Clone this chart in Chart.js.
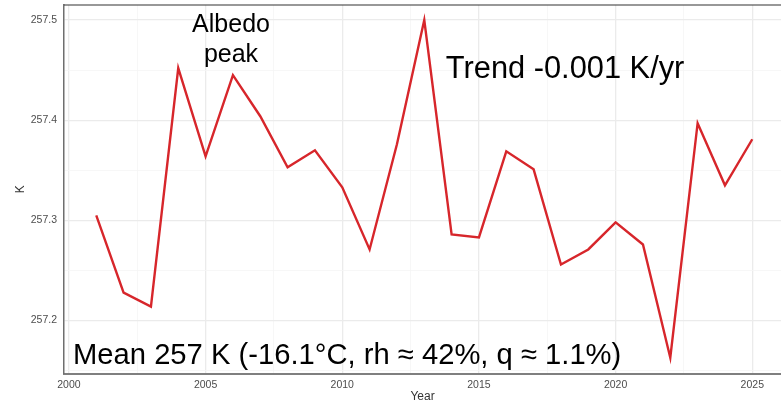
<!DOCTYPE html>
<html>
<head>
<meta charset="utf-8">
<script src="https://cdn.jsdelivr.net/npm/chart.js@4/dist/chart.umd.min.js"></script>
<style>
  html, body { margin: 0; padding: 0; background: #fff; }
  #wrap { width: 781px; height: 404px; }
</style>
</head>
<body>
<div id="wrap"><canvas id="chart" width="781" height="404"></canvas></div>
<script>
// yearly mean temperature, K
const years = [2001, 2002, 2003, 2004, 2005, 2006, 2007, 2008, 2009, 2010, 2011, 2012, 2013,
  2014, 2015, 2016, 2017, 2018, 2019, 2020, 2021, 2022, 2023, 2024, 2025];
const tempK = [257.305, 257.228, 257.214, 257.452, 257.364, 257.445, 257.404, 257.353, 257.370,
  257.333, 257.271, 257.376, 257.500, 257.286, 257.283, 257.369, 257.351, 257.256, 257.271,
  257.298, 257.276, 257.163, 257.397, 257.335, 257.381];

const xTickLabels = ['2000', '2005', '2010', '2015', '2020', '2025'];
const yTickLabels = ['257.2', '257.3', '257.4', '257.5'];

// text notes: [text, x (year), y (K), align, font size]
const notes = [
  ['Albedo', 2005.93, 257.488, 'center', 25],
  ['peak', 2005.93, 257.458, 'center', 25],
  ['Trend -0.001 K/yr', 2013.79, 257.442, 'left', 30.8],
  ['Mean 257 K (-16.1°C, rh ≈ 42%, q ≈ 1.1%)', 2000.15, 257.157, 'left', 29.2]
];

const FONT = "'Liberation Sans', Arial, sans-serif";

const extras = {
  id: 'extras',
  afterDatasetsDraw(chart) {
    const { ctx, chartArea, scales } = chart;
    ctx.save();
    // top frame line
    ctx.strokeStyle = '#333';
    ctx.lineWidth = 1.2;
    ctx.beginPath();
    ctx.moveTo(chartArea.left, chartArea.top);
    ctx.lineTo(chartArea.right, chartArea.top);
    ctx.stroke();
    // notes
    ctx.fillStyle = '#000';
    ctx.textBaseline = 'alphabetic';
    notes.forEach(([t, x, y, align, size]) => {
      ctx.font = size + 'px ' + FONT;
      ctx.textAlign = align;
      ctx.fillText(t, scales.x.getPixelForValue(x), scales.y.getPixelForValue(y));
    });
    ctx.restore();
  }
};

const isMajor = (v, step) => Math.abs(v / step - Math.round(v / step)) < 1e-6;

new Chart(document.getElementById('chart'), {
  type: 'line',
  data: {
    datasets: [{
      data: years.map((y, i) => ({ x: y, y: tempK[i] })),
      borderColor: '#d7262b',
      borderWidth: 2.4,
      pointRadius: 0,
      tension: 0,
      fill: false
    }]
  },
  options: {
    responsive: false,
    animation: false,
    layout: { padding: { top: 5, right: 0, left: 0, bottom: 0 } },
    plugins: { legend: { display: false }, tooltip: { enabled: false } },
    scales: {
      x: {
        type: 'linear',
        min: 1999.82,
        max: 2026.05,
        afterFit: s => { s.height = 30.3; s.paddingLeft = 0; s.paddingRight = 0; },
        ticks: {
          stepSize: 2.5,
          autoSkip: false,
          includeBounds: false,
          maxRotation: 0,
          padding: 5,
          color: '#4d4d4d',
          font: { family: FONT, size: 10.5 },
          callback: v => isMajor(v, 5) ? xTickLabels[Math.round((v - 2000) / 5)] : ''
        },
        grid: {
          drawTicks: false,
          color: c => isMajor(c.tick.value, 5) ? '#ebebeb' : '#f5f5f5',
          lineWidth: c => isMajor(c.tick.value, 5) ? 1.3 : 0.8
        },
        border: { display: true, color: '#7f7f7f', width: 2 },
        title: { display: true, text: 'Year', color: '#333', font: { family: FONT, size: 12 }, padding: { top: 0, bottom: 0 } }
      },
      y: {
        min: 257.147,
        max: 257.515,
        afterFit: s => { s.width = 64; s.paddingTop = 0; s.paddingBottom = 0; },
        ticks: {
          stepSize: 0.05,
          includeBounds: false,
          padding: 7,
          color: '#4d4d4d',
          font: { family: FONT, size: 10.5 },
          callback: v => isMajor(v - 257, 0.1) ? yTickLabels[Math.round((v - 257.2) / 0.1)] : ''
        },
        grid: {
          drawTicks: false,
          color: c => isMajor(c.tick.value - 257, 0.1) ? '#ebebeb' : '#f5f5f5',
          lineWidth: c => isMajor(c.tick.value - 257, 0.1) ? 1.3 : 0.8
        },
        border: { display: true, color: '#6f6f6f', width: 1.5 },
        title: { display: true, text: 'K', color: '#333', font: { family: FONT, size: 12 }, padding: { top: 13, bottom: 0 } }
      }
    }
  },
  plugins: [extras]
});
</script>
</body>
</html>
